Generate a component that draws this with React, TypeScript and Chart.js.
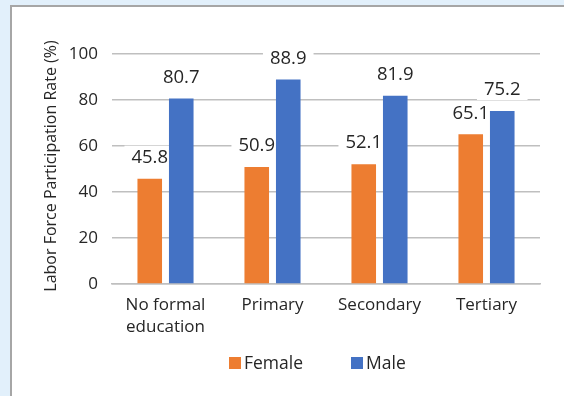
import React, { useEffect, useRef } from "react";
import { Chart, registerables } from "chart.js";

Chart.register(...registerables);

const categories: (string | string[])[] = [["No formal", "education"], "Primary", "Secondary", "Tertiary"];
const femaleValues = [45.8, 50.9, 52.1, 65.1];
const maleValues = [80.7, 88.9, 81.9, 75.2];
const yTicks = [0, 20, 40, 60, 80, 100];
const seriesNames = ["Female", "Male"];
const seriesColors = ["#ED7D31", "#4472C4"];
const yTitle = "Labor Force Participation Rate (%)";

const FONT = "'Open Sans', Lato, sans-serif";
const TEXT = "#262626";

const panelPlugin = {
  id: "panel",
  beforeDraw(chart: any) {
    const { ctx, width, height } = chart;
    ctx.save();
    ctx.fillStyle = "#e2f0fb";
    ctx.fillRect(0, 0, width, height);
    ctx.fillStyle = "#ffffff";
    ctx.fillRect(10, 5, width - 10, height - 5);
    ctx.fillStyle = "#a6a6a6";
    ctx.fillRect(10, 5, 2, height - 5);
    ctx.fillRect(10, 5, width - 10, 2);
    ctx.restore();
  },
};

const labelPlugin = {
  id: "valueLabels",
  beforeDatasetsDraw(chart: any) {
    const { ctx } = chart;
    ctx.save();
    ctx.font = `18.5px ${FONT}`;
    ctx.textAlign = "center";
    ctx.textBaseline = "middle";
    chart.data.datasets.forEach((ds: any, di: number) => {
      const meta = chart.getDatasetMeta(di);
      meta.data.forEach((bar: any, i: number) => {
        const txt = ds.data[i].toFixed(1);
        const w = ctx.measureText(txt).width;
        const cy = bar.y - 22;
        ctx.fillStyle = "#ffffff";
        ctx.fillRect(bar.x - w / 2 - 7, cy - 11, w + 14, 22);
        ctx.fillStyle = TEXT;
        ctx.fillText(txt, bar.x, cy + 1);
      });
    });
    ctx.restore();
  },
};

const extrasPlugin = {
  id: "extras",
  afterDraw(chart: any) {
    const { ctx } = chart;
    ctx.save();
    ctx.font = `16px ${FONT}`;
    ctx.fillStyle = TEXT;
    ctx.textAlign = "center";
    ctx.textBaseline = "middle";
    ctx.translate(51, 166);
    ctx.rotate(-Math.PI / 2);
    ctx.fillText(yTitle, 0, 0);
    ctx.restore();

    ctx.save();
    ctx.font = `17.5px ${FONT}`;
    ctx.textBaseline = "middle";
    ctx.textAlign = "left";
    const starts = [229, 351];
    chart.data.datasets.forEach((ds: any, i: number) => {
      const x = starts[i];
      ctx.fillStyle = ds.backgroundColor;
      ctx.fillRect(x, 357, 12, 12);
      ctx.fillStyle = TEXT;
      ctx.fillText(ds.label, x + 15, 364);
    });
    ctx.restore();
  },
};

export default function App() {
  const ref = useRef<HTMLCanvasElement>(null);
  useEffect(() => {
    document.body.style.margin = "0";
    const chart = new Chart(ref.current!, {
      type: "bar",
      data: {
        labels: categories,
        datasets: [
          { label: seriesNames[0], data: femaleValues, backgroundColor: seriesColors[0] },
          { label: seriesNames[1], data: maleValues, backgroundColor: seriesColors[1] },
        ],
      },
      options: {
        animation: false,
        responsive: false,
        layout: { padding: { left: 0, right: 24, top: 54, bottom: 0 } },
        datasets: { bar: { categoryPercentage: 0.589, barPercentage: 0.78 } },
        plugins: { legend: { display: false }, tooltip: { enabled: false } },
        scales: {
          x: {
            grid: { display: false, drawTicks: false },
            border: { display: true, color: "#bfbfbf", width: 1.5 },
            ticks: { color: TEXT, font: { family: FONT, size: 17, lineHeight: 1.25 }, padding: 11, maxRotation: 0 },
            afterFit(scale: any) { scale.height = 112; },
          },
          y: {
            min: 0,
            max: 100,
            afterBuildTicks(scale: any) { scale.ticks = yTicks.map((v) => ({ value: v })); },
            grid: { color: "#bfbfbf", lineWidth: 1.5, drawTicks: false },
            border: { display: false },
            ticks: { color: TEXT, font: { family: FONT, size: 17 }, padding: 14 },
            afterFit(scale: any) { scale.width = 112; },
          },
        },
      },
      plugins: [panelPlugin, labelPlugin, extrasPlugin],
    });
    return () => chart.destroy();
  }, []);
  return <canvas ref={ref} width={564} height={396} style={{ display: "block" }} />;
}
